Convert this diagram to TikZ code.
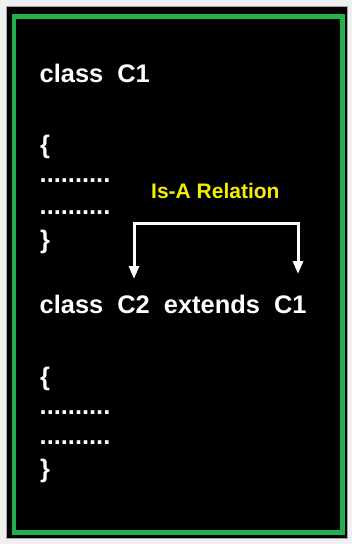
\documentclass[tikz,border=0pt]{standalone}
\usepackage{fontspec}
\setmainfont{Liberation Sans}
\usetikzlibrary{arrows.meta}
\definecolor{bggray}{RGB}{240,240,240}
\definecolor{frgreen}{RGB}{34,177,76}
\definecolor{lblyellow}{RGB}{240,240,0}
\begin{document}
\begin{tikzpicture}[x=1pt,y=-1pt,
  code/.style={anchor=base west,inner sep=0pt,text=white,font=\fontsize{25.4}{30}\selectfont\bfseries},
  lbl/.style={anchor=base west,inner sep=0pt,text=lblyellow,font=\fontsize{21}{25}\selectfont\bfseries},
  conn/.style={draw=white,line width=3pt,-{Triangle[width=10pt,length=13pt]}}]
\useasboundingbox (0,0) rectangle (352,544);
\fill[bggray] (0,0) rectangle (352,544);
\filldraw[fill=black,draw=gray!70,line width=0.6pt] (6.5,6.5) rectangle (347,538);
\draw[frgreen,line width=4.5pt] (14,16.5) rectangle (342.7,532.7);
% first class
\node[code] (c1) at (39.5,82) {class\ \ C1};
\node[code] (o1) at (40,153) {\{};
\node[code] (d1) at (39.5,182) {..........};
\node[code] (d2) at (39.5,214) {..........};
\node[code] (e1) at (40,248) {\}};
% second class
\node[code] (c2) at (39.5,313) {class\ \ C2\ \ extends\ \ C1};
\node[code] (o2) at (40,385) {\{};
\node[code] (d3) at (39.5,414) {..........};
\node[code] (d4) at (39.5,444) {..........};
\node[code] (e2) at (40,477) {\}};
% relation
\node[lbl] (rel) at (151,198) {Is-A Relation};
\coordinate (tipl) at (134,279);
\coordinate (barl) at (134,223.5);
\coordinate (barr) at (298,223.5);
\coordinate (tipr) at (298,274);
\draw[conn,{Triangle[width=10pt,length=13pt]}-{Triangle[width=10pt,length=13pt]},line join=miter] (tipl) -- (barl) -- (barr) -- (tipr);
\end{tikzpicture}
\end{document}
